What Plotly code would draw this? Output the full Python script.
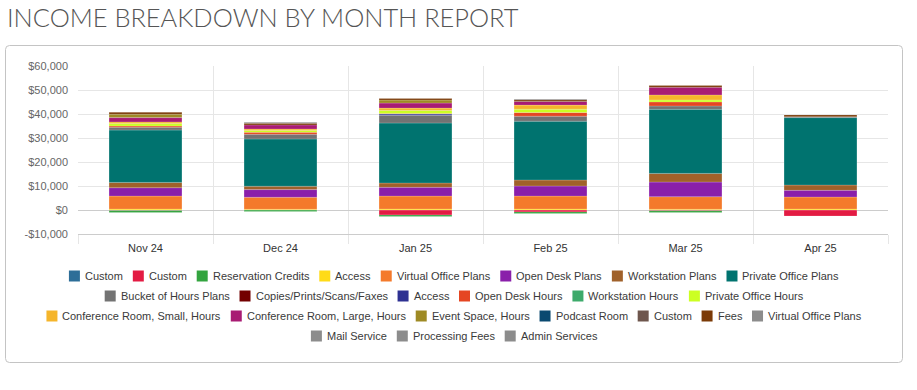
import plotly.graph_objects as go

# ---------------- data ----------------
months = ["Nov 24", "Dec 24", "Jan 25", "Feb 25", "Mar 25", "Apr 25"]

custom_blue = [0, 0, 0, 0, 0, 0]
custom_red = [-200, 0, -2100, -800, -300, -2500]
reservation_credits = [-800, -600, -600, -700, -700, 0]
access_yellow = [400, 300, 400, 400, 300, 400]
virtual_office_plans = [5400, 5000, 5400, 5400, 5250, 5000]
open_desk_plans = [3500, 3200, 3650, 4200, 6100, 2800]
workstation_plans = [2200, 1400, 1800, 2500, 3600, 2200]
private_office_plans = [21800, 19700, 25000, 24500, 26700, 28100]
bucket_of_hours_plans = [1200, 1950, 3200, 2100, 1400, 400]
copies_prints = [0, 0, 0, 0, 0, 0]
access_navy = [0, 0, 500, 0, 0, 0]
open_desk_hours = [500, 800, 300, 1500, 1700, 0]
workstation_hours = [0, 0, 0, 0, 0, 0]
private_office_hours = [1000, 800, 1250, 1400, 800, 0]
conf_room_small = [700, 600, 950, 1700, 2100, 0]
conf_room_large = [1800, 1700, 2100, 1500, 3200, 0]
event_space = [1400, 0, 1250, 0, 0, 0]
podcast_room = [0, 0, 0, 0, 0, 0]
custom_brown = [0, 0, 0, 0, 0, 0]
fees = [800, 700, 700, 700, 700, 700]
virtual_office_plans_2 = [0, 450, 0, 400, 0, 0]
mail_service = [0, 0, 0, 0, 0, 0]
processing_fees = [0, 0, 0, 0, 0, 0]
admin_services = [0, 0, 0, 0, 0, 0]

series_names = [
    "Custom", "Custom", "Reservation Credits", "Access", "Virtual Office Plans",
    "Open Desk Plans", "Workstation Plans", "Private Office Plans",
    "Bucket of Hours Plans", "Copies/Prints/Scans/Faxes", "Access", "Open Desk Hours",
    "Workstation Hours", "Private Office Hours",
    "Conference Room, Small, Hours", "Conference Room, Large, Hours", "Event Space, Hours",
    "Podcast Room", "Custom", "Fees", "Virtual Office Plans",
    "Mail Service", "Processing Fees", "Admin Services",
]
series_values = [
    custom_blue, custom_red, reservation_credits, access_yellow, virtual_office_plans,
    open_desk_plans, workstation_plans, private_office_plans,
    bucket_of_hours_plans, copies_prints, access_navy, open_desk_hours,
    workstation_hours, private_office_hours,
    conf_room_small, conf_room_large, event_space,
    podcast_room, custom_brown, fees, virtual_office_plans_2,
    mail_service, processing_fees, admin_services,
]

y_tick_vals = [-10000, 0, 10000, 20000, 30000, 40000, 50000, 60000]
y_tick_labels = ["-$10,000", "$0", "$10,000", "$20,000", "$30,000", "$40,000", "$50,000", "$60,000"]

# ---------------- styles ----------------
colors = [
    "#2d6e98", "#e31b43", "#33a43f", "#ffdb17", "#f47a2b",
    "#8a1faa", "#a0612a", "#00736f",
    "#737373", "#730000", "#2e3192", "#e54622",
    "#3daa6b", "#ccff22",
    "#f5b52b", "#a81b73", "#9e8a24",
    "#0a4970", "#6e564d", "#7b3a07", "#8c8c8c",
    "#8c8c8c", "#8c8c8c", "#8c8c8c",
]
legend_rows = [list(range(0, 8)), list(range(8, 14)), list(range(14, 21)), list(range(21, 24))]

W, H = 917, 390
L, R, T, B = 78, 29, 66, 156
PW = W - L - R
PH = H - T - B


def px_x(px):
    return (px - L) / PW


def px_y(py):
    return (H - B - py) / PH


# Helvetica / Arial advance widths (per 1000 em)
CW = {' ': 278, ',': 278, '/': 278, '-': 333, '.': 278,
      'A': 667, 'B': 667, 'C': 722, 'D': 722, 'E': 667, 'F': 611, 'G': 778, 'H': 722, 'I': 278,
      'J': 500, 'K': 667, 'L': 556, 'M': 833, 'N': 722, 'O': 778, 'P': 667, 'Q': 778, 'R': 722,
      'S': 667, 'T': 611, 'U': 722, 'V': 667, 'W': 944, 'X': 667, 'Y': 667, 'Z': 611,
      'a': 556, 'b': 556, 'c': 500, 'd': 556, 'e': 556, 'f': 278, 'g': 556, 'h': 556, 'i': 222,
      'j': 222, 'k': 500, 'l': 222, 'm': 833, 'n': 556, 'o': 556, 'p': 556, 'q': 556, 'r': 333,
      's': 500, 't': 278, 'u': 556, 'v': 500, 'w': 722, 'x': 500, 'y': 500, 'z': 500}


def text_w(s, size=11):
    return sum(CW.get(c, 556) for c in s) * size / 1000.0


fig = go.Figure()
for name, vals, col in zip(series_names, series_values, colors):
    fig.add_trace(go.Bar(
        x=months, y=[v if v != 0 else None for v in vals], name=name, showlegend=False,
        marker=dict(color=col, line=dict(color="rgba(255,255,255,0.3)", width=0.6)),
        hovertemplate="%{x}<br>" + name + ": $%{y:,.0f}<extra></extra>",
    ))

shapes = []
annotations = []

# outer panel with rounded corners
x0, x1, y0, y1, r = 5.5, 902.5, 45.5, 362.5, 4
path = (
    f"M{px_x(x0 + r)},{px_y(y0)} L{px_x(x1 - r)},{px_y(y0)} "
    f"Q{px_x(x1)},{px_y(y0)} {px_x(x1)},{px_y(y0 + r)} "
    f"L{px_x(x1)},{px_y(y1 - r)} Q{px_x(x1)},{px_y(y1)} {px_x(x1 - r)},{px_y(y1)} "
    f"L{px_x(x0 + r)},{px_y(y1)} Q{px_x(x0)},{px_y(y1)} {px_x(x0)},{px_y(y1 - r)} "
    f"L{px_x(x0)},{px_y(y0 + r)} Q{px_x(x0)},{px_y(y0)} {px_x(x0 + r)},{px_y(y0)} Z"
)
shapes.append(dict(type="path", xref="paper", yref="paper", path=path,
                   line=dict(color="#c4c4c4", width=1), layer="below"))

# title
annotations.append(dict(
    text="INCOME BREAKDOWN BY MONTH REPORT", xref="paper", yref="paper",
    x=px_x(7), y=px_y(17), xanchor="left", yanchor="middle", showarrow=False,
    font=dict(family="Lato", size=25.4, color="#555555", weight=300),
    borderpad=0, borderwidth=0,
))

# legend (Highcharts style, centred rows)
SYM, GAP, DIST = 11, 5, 10
row_y = [276, 296, 316, 336]
center_x = 454
for ri, row in enumerate(legend_rows):
    widths = [SYM + GAP + text_w(series_names[i]) for i in row]
    total = sum(widths) + DIST * (len(row) - 1)
    cur = center_x - total / 2
    yc = row_y[ri]
    for i, w in zip(row, widths):
        shapes.append(dict(type="rect", xref="paper", yref="paper",
                           x0=px_x(cur), x1=px_x(cur + SYM),
                           y0=px_y(yc + SYM / 2), y1=px_y(yc - SYM / 2),
                           fillcolor=colors[i], line=dict(width=0)))
        annotations.append(dict(
            text=series_names[i], xref="paper", yref="paper",
            x=px_x(cur + SYM + GAP), y=px_y(yc), xanchor="left", yanchor="middle",
            showarrow=False, borderpad=0, borderwidth=0,
            font=dict(family="Liberation Sans, Arial, sans-serif", size=11, color="#3a3a3a"),
        ))
        cur += w + DIST

fig.update_layout(
    width=W, height=H,
    margin=dict(l=L, r=R, t=T, b=B, autoexpand=False),
    paper_bgcolor="white", plot_bgcolor="white",
    barmode="relative", bargap=0.46,
    showlegend=False,
    font=dict(family="Liberation Sans, Arial, sans-serif", size=11, color="#666666"),
    shapes=shapes, annotations=annotations,
    xaxis=dict(
        type="category", categoryorder="array", categoryarray=months,
        tickson="boundaries", showgrid=True, gridcolor="#e6e6e6", gridwidth=1,
        ticks="outside", ticklen=9, tickcolor="#e6e6e6",
        showline=True, linecolor="#cccccc", linewidth=1,
        ticklabelstandoff=4,
        tickfont=dict(size=11, color="#333333"),
        fixedrange=True,
    ),
    yaxis=dict(
        range=[-10000, 60000], tickvals=y_tick_vals, ticktext=y_tick_labels,
        showgrid=True, gridcolor="#e6e6e6", gridwidth=1,
        zeroline=True, zerolinecolor="#cccccc", zerolinewidth=1,
        ticks="", ticklabelstandoff=9,
        tickfont=dict(size=11, color="#666666"),
        showline=False, fixedrange=True,
    ),
)

fig.write_html(
    "out.html",
    config={"displayModeBar": False},
    post_script="document.body.style.margin='0';document.body.style.padding='0';",
)
